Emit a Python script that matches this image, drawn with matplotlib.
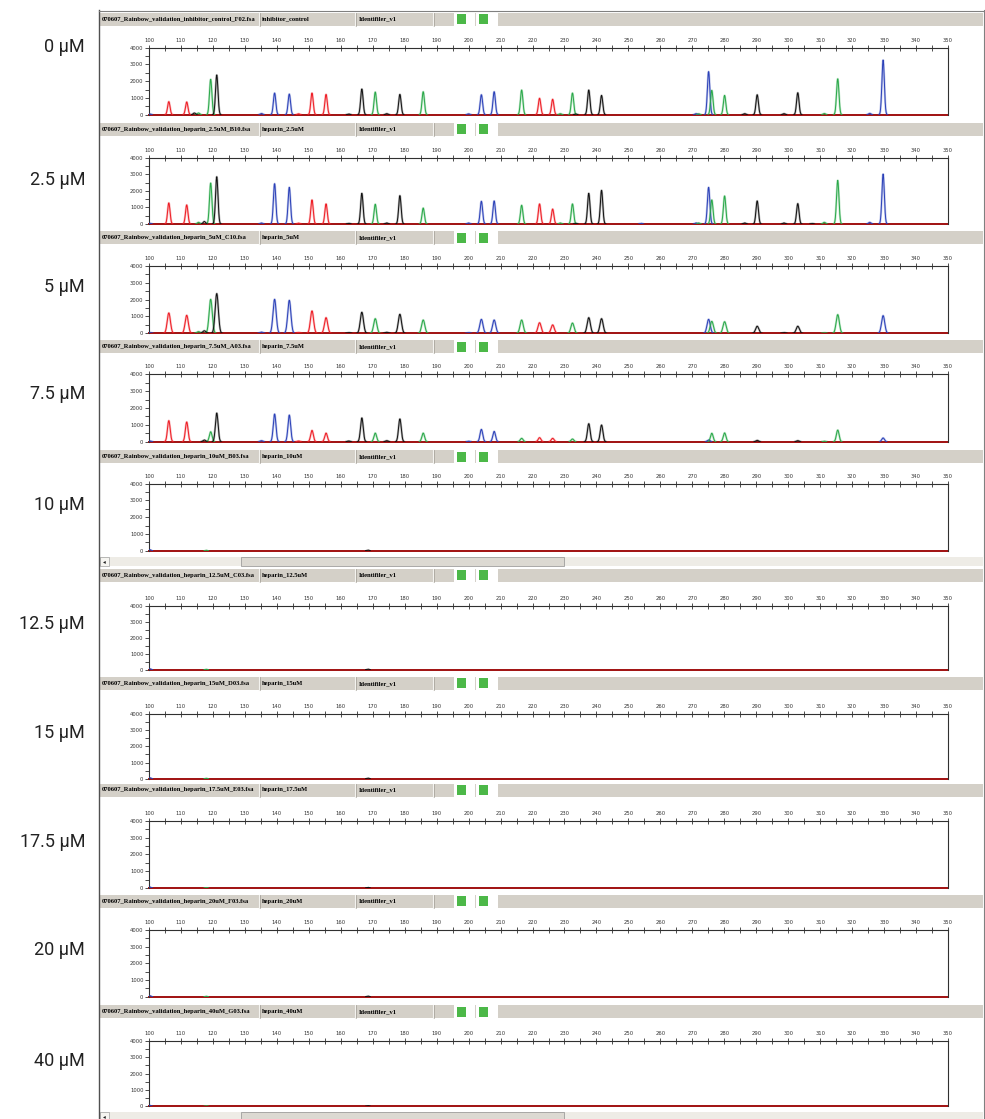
import matplotlib.pyplot as plt
import numpy as np
from matplotlib.patches import Rectangle

# sample rows (top to bottom)
conc_labels = ['0 μM', '2.5 μM', '5 μM', '7.5 μM', '10 μM',
               '12.5 μM', '15 μM', '17.5 μM', '20 μM', '40 μM']
file_names = ['070607_Rainbow_validation_inhibitor_control_F02.fsa',
              '070607_Rainbow_validation_heparin_2.5uM_B10.fsa',
              '070607_Rainbow_validation_heparin_5uM_C10.fsa',
              '070607_Rainbow_validation_heparin_7.5uM_A03.fsa',
              '070607_Rainbow_validation_heparin_10uM_B03.fsa',
              '070607_Rainbow_validation_heparin_12.5uM_C03.fsa',
              '070607_Rainbow_validation_heparin_15uM_D03.fsa',
              '070607_Rainbow_validation_heparin_17.5uM_E03.fsa',
              '070607_Rainbow_validation_heparin_20uM_F03.fsa',
              '070607_Rainbow_validation_heparin_40uM_G03.fsa']
sample_names = ['inhibitor_control', 'heparin_2.5uM', 'heparin_5uM', 'heparin_7.5uM',
                'heparin_10uM', 'heparin_12.5uM', 'heparin_15uM', 'heparin_17.5uM',
                'heparin_20uM', 'heparin_40uM']
panel_name = 'Identifiler_v1'

# peak sizes (bp) per dye, heights (RFU) for the first four samples
blue_bp = [100.3, 135.2, 139.3, 143.9, 200.0, 204.0, 208.0, 254.0, 271.2, 275.1, 325.5, 329.7]
blue_rfu = [[40, 70, 1290, 1230, 50, 1190, 1370, 0, 60, 2570, 80, 3260],
            [40, 60, 2430, 2210, 60, 1370, 1390, 40, 60, 2210, 100, 3010],
            [40, 70, 2020, 1960, 40, 830, 790, 0, 0, 830, 0, 1050],
            [40, 60, 1640, 1580, 30, 730, 610, 0, 0, 100, 0, 220]]

green_bp = [115.5, 119.3, 170.8, 185.8, 216.6, 228.7, 232.5, 272.0, 276.1, 280.1, 311.3, 315.5]
green_rfu = [[100, 2110, 1350, 1370, 1470, 60, 1290, 50, 1450, 1150, 70, 2140],
             [100, 2470, 1190, 960, 1130, 60, 1210, 60, 1450, 1690, 100, 2630],
             [100, 2020, 870, 790, 790, 0, 610, 0, 710, 690, 30, 1110],
             [0, 590, 510, 510, 200, 0, 160, 0, 500, 520, 30, 690]]

black_bp = [114.2, 117.3, 121.2, 162.5, 166.6, 174.4, 178.5, 233.5, 237.6, 241.6,
            286.4, 290.3, 298.7, 303.0, 307.5]
black_rfu = [[100, 0, 2370, 40, 1530, 60, 1210, 40, 1470, 1150, 60, 1190, 60, 1310, 0],
             [0, 150, 2850, 40, 1850, 60, 1710, 40, 1850, 2030, 60, 1390, 60, 1230, 30],
             [0, 150, 2360, 40, 1250, 60, 1130, 0, 930, 870, 0, 420, 40, 420, 0],
             [0, 100, 1700, 40, 1410, 60, 1350, 0, 1070, 990, 0, 80, 0, 60, 0]]

red_bp = [106.2, 111.8, 146.8, 151.0, 155.4, 222.2, 226.3]
red_rfu = [[780, 760, 50, 1290, 1210, 980, 920],
           [1270, 1150, 50, 1450, 1210, 1210, 900],
           [1210, 1070, 50, 1330, 930, 630, 500],
           [1250, 1170, 40, 670, 510, 240, 200]]

# tiny residual blips in the inhibited samples (10 uM .. 40 uM)
blip_bp = [100.3, 117.9, 168.5]
blip_dye = ['blue', 'green', 'black']
blip_rfu = [[60, 30, 40], [60, 30, 40], [60, 30, 40],
            [60, 30, 40], [60, 30, 40], [60, 30, 40]]

dye_colors = {'blue': '#2a40b8', 'green': '#28a848', 'black': '#111111', 'red': '#ee1c24'}

# layout in pixels (figure is 985 x 1119)
W, H = 985, 1119
hdr_y = [19, 129, 237.7, 346.7, 456.7, 575, 683.3, 790, 901, 1011.7]
ax_top = [47.7, 157.7, 266, 374.3, 483.7, 606.3, 714, 820.7, 930, 1040.7]
ax_zero = [114.7, 224, 333.3, 441.7, 550.7, 669.7, 778.7, 888, 996.7, 1106.3]
lab_y = [47, 180, 287, 394, 505, 624, 733, 842, 950, 1061]
peak_sigma = [0.38, 0.38, 0.5, 0.42]
x_left, x_right = 149, 948

fig = plt.figure(figsize=(W / 100, H / 100), dpi=100)
fig.patch.set_facecolor('white')

bg = fig.add_axes([0, 0, 1, 1], zorder=0)
bg.set_xlim(0, W)
bg.set_ylim(H, 0)
bg.axis('off')

# window frame
bg.plot([99, 99], [10, H], color='#505050', lw=1.0)
bg.plot([983.5, 983.5], [10, H], color='#808080', lw=0.8)
bg.plot([99, 984], [11, 11], color='#808080', lw=0.8)

for i in range(10):
    y = hdr_y[i]
    bg.add_patch(Rectangle((100, y - 6.5), 883, 13, fc='#d4d0c8', ec='none'))
    for dx in [259, 355, 433]:
        bg.plot([dx, dx], [y - 6.5, y + 6.5], color='#f4f3ef', lw=0.8)
        bg.plot([dx + 1, dx + 1], [y - 6.5, y + 6.5], color='#a09c94', lw=0.5)
    bg.add_patch(Rectangle((454, y - 6.5), 21, 13, fc='white', ec='none'))
    bg.add_patch(Rectangle((476, y - 6.5), 22, 13, fc='white', ec='none'))
    bg.add_patch(Rectangle((457, y - 5), 9, 10, fc='#4cb848', ec='none'))
    bg.add_patch(Rectangle((479, y - 5), 9, 10, fc='#4cb848', ec='none'))
    bg.text(102, y, file_names[i], fontsize=4.7, family='Liberation Serif',
            weight='bold', va='center', ha='left')
    bg.text(262, y, sample_names[i], fontsize=4.7, family='Liberation Serif',
            weight='bold', va='center', ha='left')
    bg.text(359, y, panel_name, fontsize=4.7, family='Liberation Serif',
            weight='bold', va='center', ha='left')
    bg.text(85, lab_y[i], conc_labels[i], fontsize=13, family='Roboto',
            color='#222222', va='center', ha='right')

# scroll bars
for sy in [557, 1112]:
    bg.add_patch(Rectangle((100, sy), 883, 9, fc='#eeece6', ec='none'))
    bg.add_patch(Rectangle((100, sy), 9, 9, fc='#f6f5f1', ec='#a0a0a0', lw=0.5))
    bg.text(104.5, sy + 4.5, '◂', fontsize=4, ha='center', va='center', color='#202020')
    bg.add_patch(Rectangle((241, sy), 323, 9, fc='#dcd9d2', ec='#909090', lw=0.5))

xs = np.linspace(100, 350, 5001)


def trace(bps, hts, sigma):
    y = np.zeros_like(xs)
    for p, h in zip(bps, hts):
        if h > 0:
            y += h * np.exp(-0.5 * ((xs - p) / sigma) ** 2)
    y[y < 8] = np.nan
    return y


for i in range(10):
    ax = fig.add_axes([x_left / W, 1 - ax_zero[i] / H, (x_right - x_left) / W,
                       (ax_zero[i] - ax_top[i]) / H], zorder=1)
    ax.set_facecolor('none')
    ax.set_xlim(100, 350)
    ax.set_ylim(0, 4000)
    ax.plot([100, 350], [0, 0], color='#a01010', lw=1.4, clip_on=False, zorder=2)

    if i < 4:
        s = peak_sigma[i]
        dyes = [('blue', blue_bp, blue_rfu[i]), ('green', green_bp, green_rfu[i]),
                ('black', black_bp, black_rfu[i]), ('red', red_bp, red_rfu[i])]
        for name, bps, hts in dyes:
            yy = trace(bps, hts, s)
            ax.plot(xs, yy, color=dye_colors[name], lw=1.6, alpha=0.3, zorder=3)
            ax.plot(xs, yy, color=dye_colors[name], lw=0.7, zorder=4)
    else:
        for p, d, h in zip(blip_bp, blip_dye, blip_rfu[i - 4]):
            yy = trace([p], [h], 0.4)
            ax.plot(xs, yy, color=dye_colors[d], lw=0.8, zorder=4)

    for side in ['left', 'top', 'right']:
        ax.spines[side].set_color('#303030')
        ax.spines[side].set_linewidth(0.8)
    ax.spines['bottom'].set_visible(False)

    ax.xaxis.tick_top()
    ax.set_xticks(np.arange(100, 351, 10))
    ax.set_xticks(np.arange(105, 350, 10), minor=True)
    ax.tick_params(axis='x', which='both', direction='inout', length=4, width=0.6,
                   color='#303030', labelsize=3.8, pad=1.5, labelcolor='#333333')
    ax.set_yticks([0, 1000, 2000, 3000, 4000])
    ax.set_yticks([500, 1500, 2500, 3500], minor=True)
    ax.tick_params(axis='y', which='both', direction='out', length=3, width=0.6,
                   color='#303030', labelsize=3.8, pad=1, labelcolor='#333333')
    ax.yaxis.set_ticks_position('left')

fig.savefig('out.png', dpi=100)
